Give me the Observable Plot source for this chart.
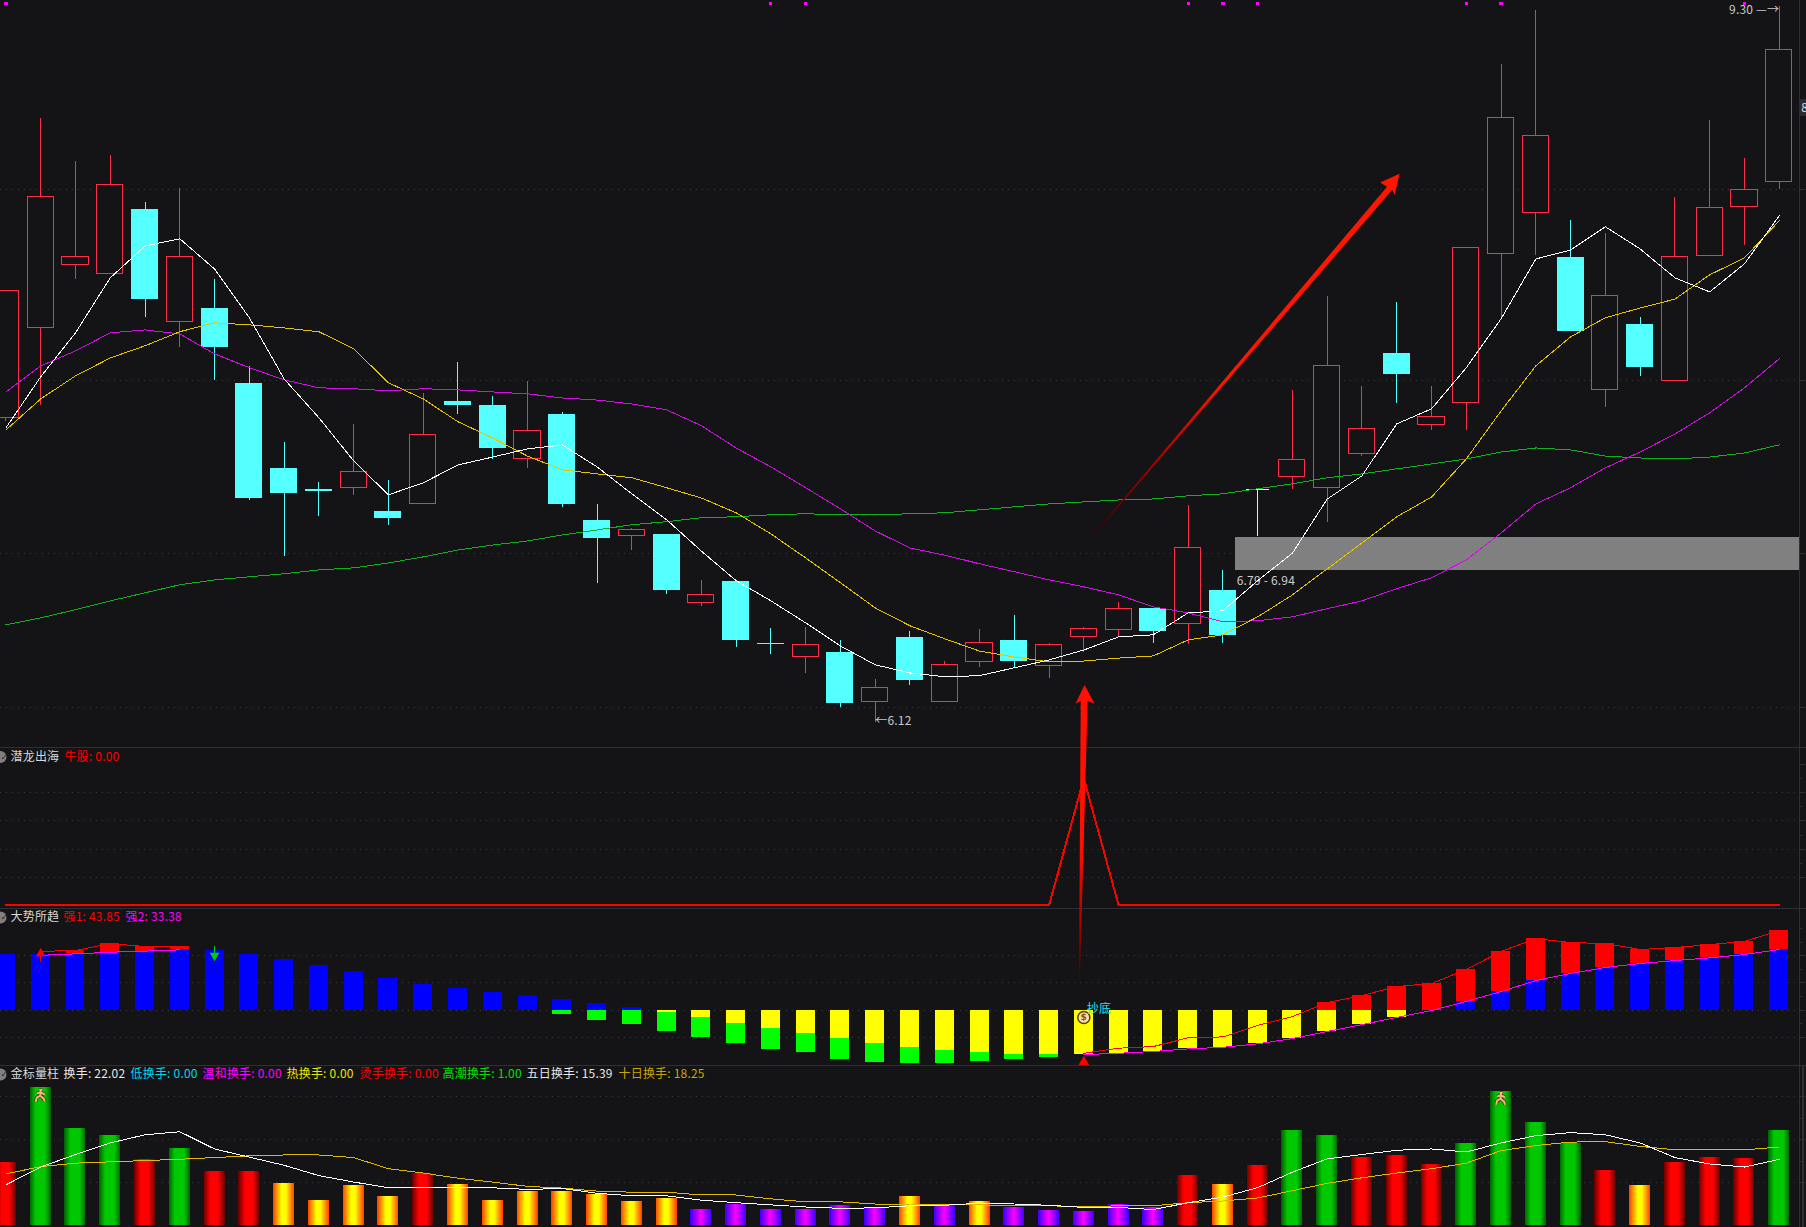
<!DOCTYPE html>
<html><head><meta charset="utf-8">
<style>
html,body{margin:0;padding:0;background:#141315;overflow:hidden;width:1806px;height:1227px}
#wrap{position:relative;width:1806px;height:1227px;background:#141315;font-family:"Noto Sans CJK SC",sans-serif}
#wrap svg{display:block}
#wrap text{letter-spacing:.2px}
#main{position:absolute;left:0;top:0;z-index:2}
#lower{position:absolute;left:0;top:747px;z-index:1}
</style>
<script src="https://cdn.jsdelivr.net/npm/d3@7"></script>
<script src="https://cdn.jsdelivr.net/npm/@observablehq/plot@0.6"></script>
</head><body><div id="wrap"><div id="lower"></div><div id="main"></div></div>
<script>
// ---- main panel: daily candles (price)
const open=[7.311,7.705,7.994,7.952,8.256,7.733,7.791,7.457,7.096,7.009,7.018,6.920,6.952,7.379,7.362,7.137,7.323,6.884,6.823,6.827,6.561,6.643,6.409,6.357,6.375,6.192,6.428,6.192,6.339,6.417,6.324,6.432,6.459,6.539,6.482,6.608,7.009,7.063,7.018,7.158,7.589,7.281,7.374,8.045,8.241,8.031,7.431,7.719,7.471,8.036,8.270,8.392];
const close=[7.873,8.319,8.031,8.377,7.832,8.031,7.616,6.972,6.993,7.001,7.083,6.892,7.238,7.362,7.179,7.255,6.948,6.811,6.847,6.608,6.592,6.417,6.402,6.402,6.185,6.243,6.269,6.328,6.409,6.342,6.402,6.463,6.539,6.451,6.775,6.436,7.009,7.133,7.536,7.264,7.497,7.315,8.073,8.712,8.620,7.688,7.850,7.528,8.031,8.265,8.353,9.063];
const high=[7.873,8.707,8.490,8.524,8.289,8.358,7.924,7.532,7.208,7.038,7.281,7.046,7.414,7.549,7.401,7.466,7.332,6.948,6.851,6.827,6.647,6.643,6.463,6.466,6.417,6.273,6.451,6.339,6.459,6.512,6.406,6.466,6.561,6.539,6.944,6.685,7.009,7.427,7.846,7.444,7.822,7.444,8.073,8.985,9.273,8.203,8.141,7.751,8.314,8.696,8.505,9.30];
const low=[7.294,7.362,7.924,7.952,7.751,7.616,7.471,6.964,6.740,6.900,6.985,6.864,6.948,7.323,7.133,7.096,6.936,6.635,6.767,6.592,6.546,6.394,6.368,6.295,6.171,6.12,6.251,6.192,6.317,6.317,6.277,6.375,6.432,6.409,6.402,6.409,6.819,7.009,6.876,7.149,7.370,7.255,7.255,7.742,8.040,7.688,7.353,7.488,7.471,8.036,8.083,8.353];
const ma5=[7.268,7.488,7.683,7.934,8.083,8.117,7.975,7.751,7.479,7.311,7.129,6.989,7.038,7.112,7.145,7.179,7.196,7.104,6.993,6.888,6.763,6.647,6.569,6.485,6.398,6.328,6.298,6.284,6.288,6.317,6.346,6.383,6.432,6.440,6.523,6.531,6.647,6.755,6.972,7.067,7.285,7.349,7.528,7.746,8.022,8.064,8.174,8.069,7.934,7.869,7.999,8.227];
const ma10=[7.259,7.392,7.492,7.571,7.625,7.688,7.728,7.719,7.705,7.688,7.612,7.462,7.392,7.294,7.225,7.149,7.092,7.075,7.059,7.018,6.976,6.916,6.831,6.736,6.639,6.542,6.474,6.425,6.379,6.357,6.339,6.342,6.353,6.361,6.421,6.440,6.508,6.592,6.693,6.795,6.900,6.980,7.137,7.340,7.536,7.665,7.751,7.795,7.836,7.948,8.027,8.203];
const ma20=[7.422,7.536,7.602,7.683,7.696,7.678,7.589,7.528,7.475,7.440,7.436,7.427,7.436,7.431,7.422,7.414,7.396,7.387,7.370,7.345,7.277,7.183,7.104,7.018,6.932,6.843,6.775,6.747,6.713,6.682,6.650,6.623,6.592,6.546,6.523,6.489,6.493,6.508,6.539,6.569,6.616,6.658,6.728,6.835,6.952,7.018,7.100,7.166,7.242,7.332,7.440,7.567];
const ma60=[6.478,6.504,6.535,6.569,6.600,6.631,6.650,6.662,6.674,6.689,6.697,6.716,6.740,6.767,6.787,6.803,6.827,6.847,6.868,6.880,6.896,6.900,6.908,6.912,6.908,6.908,6.912,6.916,6.928,6.940,6.952,6.960,6.968,6.972,6.985,6.993,7.014,7.034,7.059,7.075,7.096,7.116,7.137,7.166,7.183,7.175,7.149,7.141,7.137,7.145,7.162,7.196];
const priceGrid=[8.353,7.471,6.755,6.171];
const signalDays=[0,22,23,34,35,36,42,43,50];
const bandLow=6.686, bandHigh=6.815, bandLabel="6.79 - 6.94";
// arrows drawn on the chart, as [day, price]
const trendArrow=[[31.285,6.831],[39.72,8.368],[39.52,8.388],[40.08,8.431],[39.94,8.328],[39.87,8.353],[31.315,6.829]];
const entryArrow=[[30.86,5.251],[30.91,6.196],[30.76,6.186],[31.02,6.2535],[31.31,6.186],[31.11,6.196],[30.885,5.251]];

// ---- panel 2: 潜龙出海
const bull=[...Array(31).fill(0),1,...Array(20).fill(0)];
const bullGrid=[.216,.437,.666,.887];
const bullMinor=[1.0,.78,.55,.33];
const bullLabels=["潜龙出海","牛股: 0.00"];

// ---- panel 3: 大势所趋
const blueTop=[30.6,30.6,31,31.9,32.5,33.2,32.8,30.6,27.7,24.4,21.3,17.4,14.1,11.9,9.7,7.9,5.9,3.5,1.3,0,0,0,0,0,0,0,0,0,0,0,0,0,0,0,0,0,0,0,0,0,0,0,4.8,10.3,16.3,20.2,23.5,25.7,27.3,28.8,30.6,33.38];
const redTop=[0,0,32.8,36.7,35,35,0,0,0,0,0,0,0,0,0,0,0,0,0,0,0,0,0,0,0,0,0,0,0,0,0,0,0,0,0,0,0,0,4.2,8.1,13,14.7,22.4,32.3,39.4,37.2,36.7,33.4,34.5,36.1,37.8,43.85];
const yellowEnd=[0,0,0,0,0,0,0,0,0,0,0,0,0,0,0,0,0,0,0,-1.3,-4,-7.3,-10.1,-12.8,-15.6,-18.3,-20.5,-22.2,-23.3,-24.4,-24.4,-24.4,-23.7,-22.7,-21.3,-20.4,-18.5,-15.6,-11.7,-7.9,-4,-0.2,0,0,0,0,0,0,0,0,0,0];
const greenEnd=[0,0,0,0,0,0,0,0,0,0,0,0,0,0,0,0,-2.2,-5.7,-7.9,-11.7,-15,-18.3,-21.6,-23.3,-27.1,-28.8,-29.3,-29.3,-28.2,-27.1,-26,0,0,0,0,0,0,0,0,0,0,0,0,0,0,0,0,0,0,0,0,0];
const strong1=[null,32.4,32.8,36.7,35,35,...Array(25).fill(null),-23.7,-20.9,-20,-15.2,-14.7,-8.4,-3.5,4.2,8.1,13,14.7,22.4,32.3,39.4,37.2,36.7,33.4,34.5,36.1,37.8,43.85];
const strong2=[null,30.2,31,31.9,32.5,33.2,...Array(25).fill(null),-24.4,-23.7,-22.7,-21.3,-20.4,-18.5,-15.6,-11.7,-7.9,-4,-0.2,4.8,10.3,16.3,20.2,23.5,25.7,27.3,28.8,30.6,33.38];
const trendGrid=[30,15,0,-15];
const trendMinor=[45,37.5,22.5,7.5,-7.5];
const trendLabels=["大势所趋","强1: 43.85","强2: 33.38"];

// ---- panel 4: 金标量柱 (turnover)
const turnover=[14.65,32.1,22.6,20.9,15.3,17.9,12.6,12.6,9.8,5.8,9.3,6.7,12.1,9.5,5.8,7.9,7.9,7.2,5.6,6.3,3.7,4.9,3.7,3.7,4.65,4.3,6.7,4.95,5.6,4.2,3.5,3.3,4.9,4.2,11.6,9.5,14,22.1,20.9,15.8,16.3,14.2,19.1,31.2,24,19.1,12.8,9.3,14.65,15.8,15.6,22.02];
const turn5=[9.46,13.6,16.5,19.2,21.1,21.8,17.8,15.9,14,11.6,10.1,8.8,8.76,8.76,8.76,8.4,8.6,7.5,6.9,6.9,5.9,5.3,4.8,4.3,4,4.1,4.6,4.7,5.2,5,4.7,4.2,4.2,3.7,5.3,6.6,8.8,12.4,15.5,16.5,17.5,17.8,17.1,19.2,20.9,21.6,21.1,19.2,15.8,14.3,13.6,15.39];
const turn10=[12,13.7,14.5,14.8,15.1,15.4,15.8,16.2,16.4,16.4,15.8,13.2,12.2,11,10.1,9.1,8.7,8,7.75,7.75,7.1,7.1,6.2,5.5,5.5,5,5,4.8,4.8,4.6,4.6,4.3,4.6,4.6,5.3,5.7,6.4,8.1,9.8,11.1,12.2,13.2,14.5,17.4,18.6,19.4,19.5,18.4,17.6,17.6,17.6,18.25];
const turnGrid=[30,20,10];
const turnMinor=[25,15];
const runners=[{i:1,v:30.2},{i:43,v:29.5}];
const turnLabels=["金标量柱","换手: 22.02","低换手: 0.00","温和换手: 0.00","热换手: 0.00","烫手换手: 0.00","高潮换手: 1.00","五日换手: 15.39","十日换手: 18.25"];

// ---- styles
const BG="#141315",GRID="#3a3a3e",AXIS="#2e3036";
const UP="#ff2d46",DOWN="#54ffff",FONT='"Noto Sans CJK SC",sans-serif';
const crisp={shapeRendering:"crispEdges"};
const thin={strokeWidth:1,...crisp};
const X0=-0.157,X1=51.784;
const xScale={domain:[X0,X1],range:[0,1806],axis:null};
const days=open.map((_,i)=>i);
const candles=days.map(i=>({i,open:open[i],close:close[i],high:high[i],low:low[i]}));
const series=a=>a.map((v,i)=>({i,v}));
const AX=51.59;

function gradDefs(list){
  return ()=>{
    const d=d3.create("svg:defs");
    for(const g of list){
      const lg=d.append("linearGradient").attr("id",g.id)
        .attr("x1",g.dir[0]).attr("y1",g.dir[1]).attr("x2",g.dir[2]).attr("y2",g.dir[3]);
      g.stops.forEach(([o,c])=>lg.append("stop").attr("offset",o).attr("stop-color",c));
    }
    return d.node();
  };
}
function axisMarks(major,minor){
  return [
    Plot.ruleY(major,{x1:X0,x2:AX,stroke:GRID,strokeDasharray:"1 5",...crisp}),
    Plot.ruleX([AX],{stroke:AXIS,...crisp}),
    Plot.ruleY(major,{x1:AX,x2:51.75,stroke:AXIS,...crisp}),
    Plot.ruleY(minor,{x1:AX,x2:51.67,stroke:AXIS,...crisp})
  ];
}
function header(labels,colors,dxs,dy){
  const ms=[
    Plot.dot([0],{frameAnchor:"top-left",dx:0,dy,r:6,fill:"#808080"}),
    Plot.text(["✓"],{frameAnchor:"top-left",dx:0,dy,textAnchor:"start",lineAnchor:"middle",fontSize:9,fontFamily:"DejaVu Sans",fill:"#2a2a2a"})
  ];
  labels.forEach((t,k)=>ms.push(Plot.text([t],{frameAnchor:"top-left",dx:dxs[k],dy,textAnchor:"start",lineAnchor:"middle",fontSize:12,fontFamily:FONT,fill:colors[k]})));
  return ms;
}
const panelOpts=(height,y,marks)=>Plot.plot({width:1806,height,margin:0,x:xScale,y:{...y,axis:null},
  style:{background:"transparent",overflow:"visible",display:"block"},marks});

// ---- panel 2
const p2=panelOpts(161,{domain:[0,1],range:[157.7,31]},[
  Plot.frame({anchor:"top",stroke:AXIS,...crisp}),
  ...axisMarks(bullGrid,bullMinor),
  Plot.ruleY([1.11],{x1:AX,x2:51.75,stroke:AXIS,...crisp}),
  Plot.line(series(bull),{x:"i",y:"v",stroke:"#ff0000",strokeWidth:2,curve:"linear",...crisp}),
  ...header(bullLabels,["#d8d8d8","#ff0000"],[10,64],9.5)
]);

// ---- panel 3
const half3=.273, pick=(f)=>days.map(i=>({i,...f(i)})).filter(d=>d.a!==d.b);
const bar3=(rows,fill)=>Plot.rect(rows,{x1:d=>d.i-half3,x2:d=>d.i+half3,y1:"a",y2:"b",fill,...crisp});
const p3=panelOpts(157,{domain:[0,43.85],range:[101.7,22]},[
  Plot.frame({anchor:"top",stroke:AXIS,...crisp}),
  ...axisMarks(trendGrid,trendMinor),
  bar3(pick(i=>({a:0,b:blueTop[i]})),"#0000ff"),
  bar3(pick(i=>({a:redTop[i]?blueTop[i]:0,b:redTop[i]||0})),"#ff0000"),
  bar3(pick(i=>({a:0,b:yellowEnd[i]})),"#ffff00"),
  bar3(pick(i=>({a:yellowEnd[i],b:greenEnd[i]?greenEnd[i]:yellowEnd[i]})),"#00ff00"),
  Plot.line(series(strong1),{x:"i",y:"v",stroke:"#ff0000",...thin}),
  Plot.line(series(strong2),{x:"i",y:"v",stroke:"#ff00ff",...thin}),
  Plot.ruleX([{i:1,a:32.8,b:26.2}],{x:"i",y1:"a",y2:"b",stroke:"#ff0000",strokeWidth:1.5,...crisp}),
  Plot.dot([{i:1,v:31.2}],{x:"i",y:"v",symbol:"triangle",r:3.6,fill:"#ff0000"}),
  Plot.ruleX([{i:6,a:35,b:28.4}],{x:"i",y1:"a",y2:"b",stroke:"#00d000",strokeWidth:1.5,...crisp}),
  Plot.dot([{i:6,v:30}],{x:"i",y:"v",symbol:"triangle",r:3.6,fill:"#00d000",rotate:180}),
  Plot.dot([{i:31,v:-28.8}],{x:"i",y:"v",symbol:"triangle",r:4.4,fill:"#ff0000"}),
  Plot.dot([{i:31,v:-4}],{x:"i",y:"v",r:6,fill:"#f6e2a4",stroke:"#5a3a10"}),
  Plot.text([{i:31,v:-4}],{x:"i",y:"v",text:()=>"$",fontSize:9,fontWeight:700,fill:"#8b4a20",fontFamily:"DejaVu Sans"}),
  Plot.text([{i:31,v:0.6}],{x:"i",y:"v",text:()=>"抄底",dx:3,textAnchor:"start",fontSize:12,fill:"#18e8f0",fontFamily:FONT}),
  ...header(trendLabels,["#d8d8d8","#ff0000","#ff00ff"],[10,63,125],9)
]);

// ---- panel 4
const half4=.302;
const cls=[["gPurple",v=>v<5],["gOrange",v=>v>=5&&v<10],["gRed",v=>v>=10&&v<17],["gGreen",v=>v>=17]];
const runnerSymbol={draw(c){
  c.moveTo(-1.5,-6);c.lineTo(1.5,-6);c.moveTo(0,-5);c.lineTo(-.5,0);
  c.moveTo(-4,-2);c.lineTo(0,-3.5);c.lineTo(4,-1);
  c.moveTo(-.5,0);c.lineTo(-4,2);c.lineTo(-5,6);
  c.moveTo(-.5,0);c.lineTo(3,3);c.lineTo(4,6);
}};
const p4=panelOpts(162,{domain:[0,30],range:[160,31]},[
  gradDefs([
    {id:"gGreen",dir:[0,0,1,0],stops:[[0,"#006400"],[.28,"#00c800"],[.72,"#00c800"],[1,"#006400"]]},
    {id:"gRed",dir:[0,0,1,0],stops:[[0,"#6a0000"],[.32,"#ff0000"],[.68,"#ff0000"],[1,"#6a0000"]]},
    {id:"gOrange",dir:[0,0,1,0],stops:[[0,"#ff4000"],[.4,"#ffff00"],[.6,"#ffff00"],[1,"#ff4000"]]},
    {id:"gPurple",dir:[0,0,1,0],stops:[[0,"#3a00ff"],[.5,"#ff00ff"],[1,"#3a00ff"]]}
  ]),
  Plot.frame({anchor:"top",stroke:AXIS,...crisp}),
  ...axisMarks(turnGrid,turnMinor),
  Plot.ruleX([51.67],{stroke:AXIS,strokeWidth:2,...crisp}),
  ...cls.map(([id,test])=>Plot.rect(series(turnover).filter(d=>test(d.v)),{x1:d=>d.i-half4,x2:d=>d.i+half4,y1:0,y2:"v",fill:`url(#${id})`,...crisp})),
  Plot.line(series(turn10),{x:"i",y:"v",stroke:"#e0b800",...thin}),
  Plot.line(series(turn5),{x:"i",y:"v",stroke:"#ffffff",...thin}),
  Plot.dot(runners,{x:"i",y:"v",symbol:runnerSymbol,r:6,fill:"none",stroke:"#4a2a10",strokeWidth:3.4}),
  Plot.dot(runners,{x:"i",y:"v",symbol:runnerSymbol,r:6,fill:"none",stroke:"#f4b878",strokeWidth:2}),
  ...header(turnLabels,["#d8d8d8","#e8e8e8","#00d8e8","#ff00ff","#e8e800","#ff0000","#00e000","#e8e8e8","#c8a800"],[10,63,130,202,286,359,442,526,618],9)
]);

// ---- main panel
const up=candles.filter(d=>d.close>d.open), down=candles.filter(d=>d.close<d.open), flat=candles.filter(d=>d.close===d.open);
const wick=(rows,stroke)=>Plot.ruleX(rows,{x:"i",y1:"low",y2:"high",stroke,...crisp});
const main=Plot.plot({width:1806,height:747,margin:0,x:xScale,
  y:{type:"log",domain:[9.30,6.12],range:[5.5,721.5],axis:null},
  style:{background:"transparent",overflow:"visible",display:"block"},
  marks:[
    gradDefs([
      {id:"aDiag",dir:[0,1,1,0],stops:[[0,"#400000"],[.2,"#a80000"],[.42,"#ff1500"],[1,"#ff1500"]]},
      {id:"aVert",dir:[0,1,0,0],stops:[[0,"#400000"],[.2,"#a80000"],[.45,"#ff1000"],[1,"#ff1000"]]}
    ]),
    ...axisMarks(priceGrid,[]),
    Plot.rect([{a:bandLow,b:bandHigh}],{x1:(1235-5.8)/34.77,x2:AX,y1:"a",y2:"b",fill:"#808080",...crisp}),
    Plot.text([bandLabel],{x:(1236.5-5.8)/34.77,y:bandLow,dy:11,text:d=>d,textAnchor:"start",fontSize:12,fontFamily:FONT,fill:"#cfcfcf"}),
    wick(up,UP),wick(down,DOWN),wick(flat,"#e8e8e8"),
    Plot.rect(up,{x1:d=>d.i-.375,x2:d=>d.i+.375,y1:"open",y2:"close",fill:BG,stroke:UP,...crisp}),
    Plot.rect(down,{x1:d=>d.i-.388,x2:d=>d.i+.388,y1:"open",y2:"close",fill:DOWN,...crisp}),
    Plot.ruleY(flat,{x1:d=>d.i-.33,x2:d=>d.i+.33,y:"open",stroke:"#e8e8e8",...crisp}),
    Plot.line(series(ma60),{x:"i",y:"v",stroke:"#10b020",...thin}),
    Plot.line(series(ma20),{x:"i",y:"v",stroke:"#d010e0",...thin}),
    Plot.line(series(ma10),{x:"i",y:"v",stroke:"#e6c400",...thin}),
    Plot.line(series(ma5),{x:"i",y:"v",stroke:"#ffffff",...thin}),
    Plot.dot(signalDays,{x:d=>d,y:()=>9.312,symbol:"square",r:1.8,fill:"#ff00ff",...crisp}),
    Plot.rect([{a:8.803,b:8.717}],{x1:AX,x2:51.78,y1:"a",y2:"b",fill:"#2a2c33",...crisp}),
    Plot.text([8.76],{x:AX,y:d=>d,dx:1.5,text:()=>"8",textAnchor:"start",fontSize:12,fontFamily:FONT,fill:"#d8e0e8"}),
    Plot.text([6.12],{x:25,y:d=>d,dy:-1,text:()=>"←6.12",textAnchor:"start",fontSize:12,fontFamily:FONT,fill:"#c8c8c8"}),
    Plot.text([9.30],{x:51,y:d=>d,dy:4,text:()=>"9.30 —→",textAnchor:"end",fontSize:12,fontFamily:FONT,fill:"#c8c8c8"}),
    Plot.line(trendArrow,{x:"0",y:"1",fill:"url(#aDiag)",stroke:"none"}),
    Plot.line(entryArrow,{x:"0",y:"1",fill:"url(#aVert)",stroke:"none"})
  ]});

document.getElementById("main").append(main);
const lower=document.getElementById("lower");
lower.append(p2,p3,p4);
</script></body></html>
